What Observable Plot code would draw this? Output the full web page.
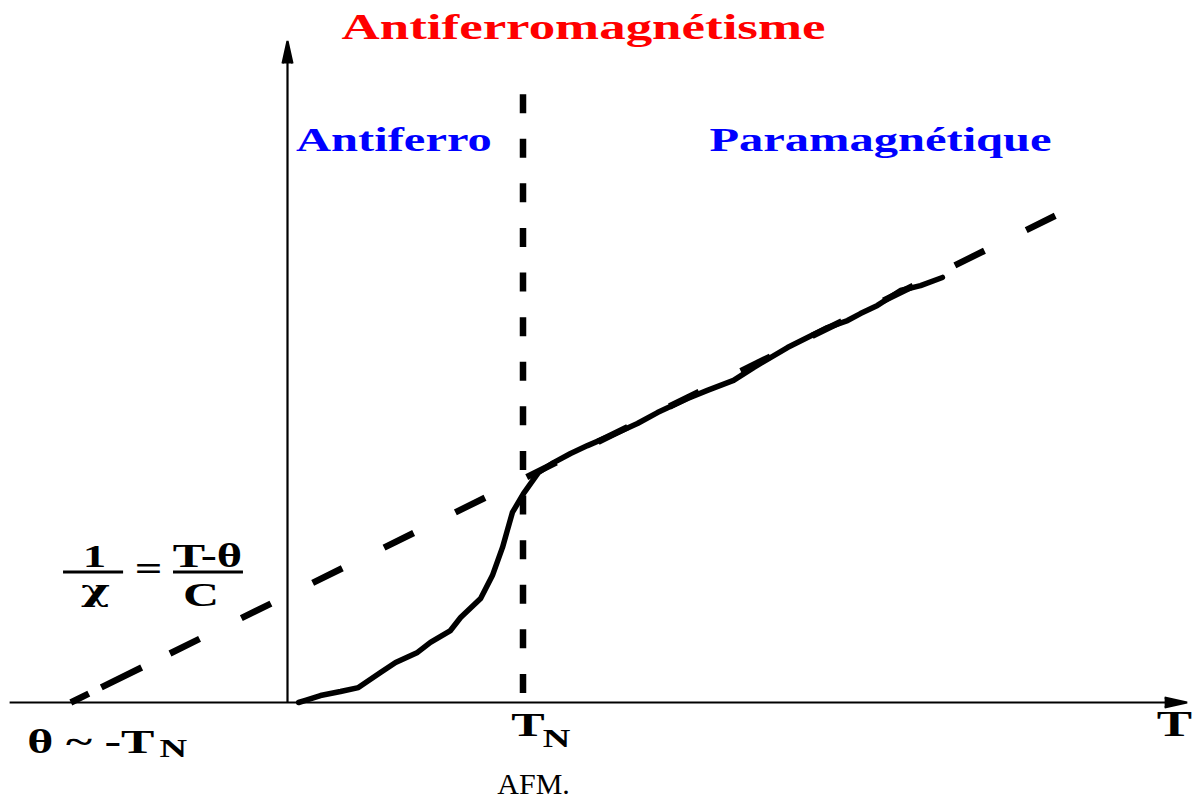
<!DOCTYPE html>
<html>
<head>
<meta charset="utf-8">
<script src="https://cdn.jsdelivr.net/npm/d3@7"></script>
<script src="https://cdn.jsdelivr.net/npm/@observablehq/plot@0.6"></script>
<style>
  html, body { margin: 0; padding: 0; background: #fff; }
</style>
</head>
<body>
<div id="chart"></div>
<script>
// Measured inverse susceptibility 1/χ (arb. units) versus temperature T (K)
const curveT = [4.7, 7.6, 14.0, 22.5, 30.1, 39.5, 45.9, 55.2, 60.7, 69.2, 73.5, 82.0, 87.0, 91.3, 95.5,
  100.2, 106.6, 113.0, 120.2, 127.4, 139.3, 148.6, 157.1, 169.9, 178.3, 189.4, 197.9, 212.3, 229.3,
  237.8, 243.3, 250.5, 260.3, 268.8, 278.1];
const curveInvChi = [0, 0.9, 3.0, 4.7, 6.4, 12.9, 17.2, 21.5, 25.8, 30.9, 36.5, 44.7, 54.5, 66.6, 81.6,
  89.7, 98.8, 103.0, 106.9, 110.3, 115.5, 119.8, 124.5, 130.5, 134.0, 138.3, 143.8, 152.4, 161.0,
  164.0, 167.0, 170.5, 176.9, 179.0, 182.5];

// Curie–Weiss asymptote 1/χ = (T − θ)/C, given by its two end points
const asymptoteT = [-92, 326];
const asymptoteInvChi = [0, 209];

// Néel temperature and the top of its marker line
const neelT = 100;
const neelTop = 261;

// Extent of the T axis and of the 1/χ axis
const axisT = [-118, 382];
const axisInvChiTop = 284;

const curve = curveT.map((T, i) => ({T, invChi: curveInvChi[i]}));
const asymptote = asymptoteT.map((T, i) => ({T, invChi: asymptoteInvChi[i]}));

// dash pattern of the asymptote: a short lead-in pair, then regular dashes to the end
const asymptoteDash = ["20,14,45,31.6", ...Array(13).fill("33,46.6")].join(",");

const label = (text, x, y, opts = {}) =>
  Plot.text([text], {x, y, text: d => d, lineAnchor: "bottom", fontWeight: "bold", fill: "black", ...opts});

const chart = Plot.plot({
  width: 1201,
  height: 800,
  margin: 0,
  x: {domain: [0, 100], range: [287, 522.5], axis: null},
  y: {domain: [0, 100], range: [702, 469.1], axis: null},
  style: {fontFamily: "'Liberation Serif', 'Times New Roman', serif", background: "white", color: "black"},
  marks: [
    // axes with filled arrowheads
    Plot.arrow([0], {x1: axisT[0], x2: axisT[1], y1: 0, y2: 0, stroke: "black", fill: "black",
      strokeWidth: 2.2, headLength: 15.7, headAngle: 25, strokeLinecap: "butt"}),
    Plot.arrow([0], {x1: 0, x2: 0, y1: 0, y2: axisInvChiTop, stroke: "black", fill: "black",
      strokeWidth: 2.2, headLength: 15.7, headAngle: 25, strokeLinecap: "butt"}),
    // Curie–Weiss asymptote
    Plot.line(asymptote, {x: "T", y: "invChi", stroke: "black", strokeWidth: 6.5,
      strokeDasharray: asymptoteDash, strokeLinecap: "butt"}),
    // T_N marker
    Plot.ruleX([neelT], {y1: neelTop, y2: 0, stroke: "black", strokeWidth: 6.5,
      strokeDasharray: "19,25.6", strokeLinecap: "butt"}),
    // measured curve
    Plot.line(curve, {x: "T", y: "invChi", stroke: "black", strokeWidth: 5.5, curve: "linear"}),

    // title and region labels
    label("Antiferromagnétisme", 125.7, 284.7, {fontSize: 36, fill: "#ff0000"}),
    label("Antiferro", 45.2, 237.0, {fontSize: 33, fill: "#0000ff"}),
    label("Paramagnétique", 251.8, 237.0, {fontSize: 33, fill: "#0000ff"}),

    // 1/χ = (T − θ)/C
    label("1", -82.0, 58.0, {fontSize: 32}),
    Plot.ruleY([56], {x1: -95.1, x2: -69.6, stroke: "black", strokeWidth: 3}),
    label("χ", -81.5, 43.4, {fontSize: 30, fontFamily: "'DejaVu Serif', serif"}),
    label("=", -59.0, 52.8, {fontSize: 33}),
    label("T-θ", -34.0, 58.0, {fontSize: 33}),
    Plot.ruleY([56], {x1: -48.4, x2: -18.7, stroke: "black", strokeWidth: 3}),
    label("C", -36.7, 41.6, {fontSize: 34}),

    // axis annotations
    label("θ ~ -T", -83.5, -21.5, {fontSize: 34}),
    label("N", -48.5, -23.6, {fontSize: 26}),
    label("T", 102.1, -14.2, {fontSize: 34}),
    label("N", 114.2, -19.3, {fontSize: 26}),
    label("T", 376.6, -14.2, {fontSize: 36}),
    label("AFM.", 104.5, -39.1, {fontSize: 30, fontWeight: "normal"})
  ]
});

document.getElementById("chart").appendChild(chart);

// the bold lettering is set in a wide face: widen it horizontally
chart.querySelectorAll("text").forEach(el => {
  if (getComputedStyle(el).fontWeight !== "700") return;
  const w = el.getComputedTextLength();
  el.setAttribute("textLength", (w * 1.47).toFixed(1));
  el.setAttribute("lengthAdjust", "spacingAndGlyphs");
});
</script>
</body>
</html>
